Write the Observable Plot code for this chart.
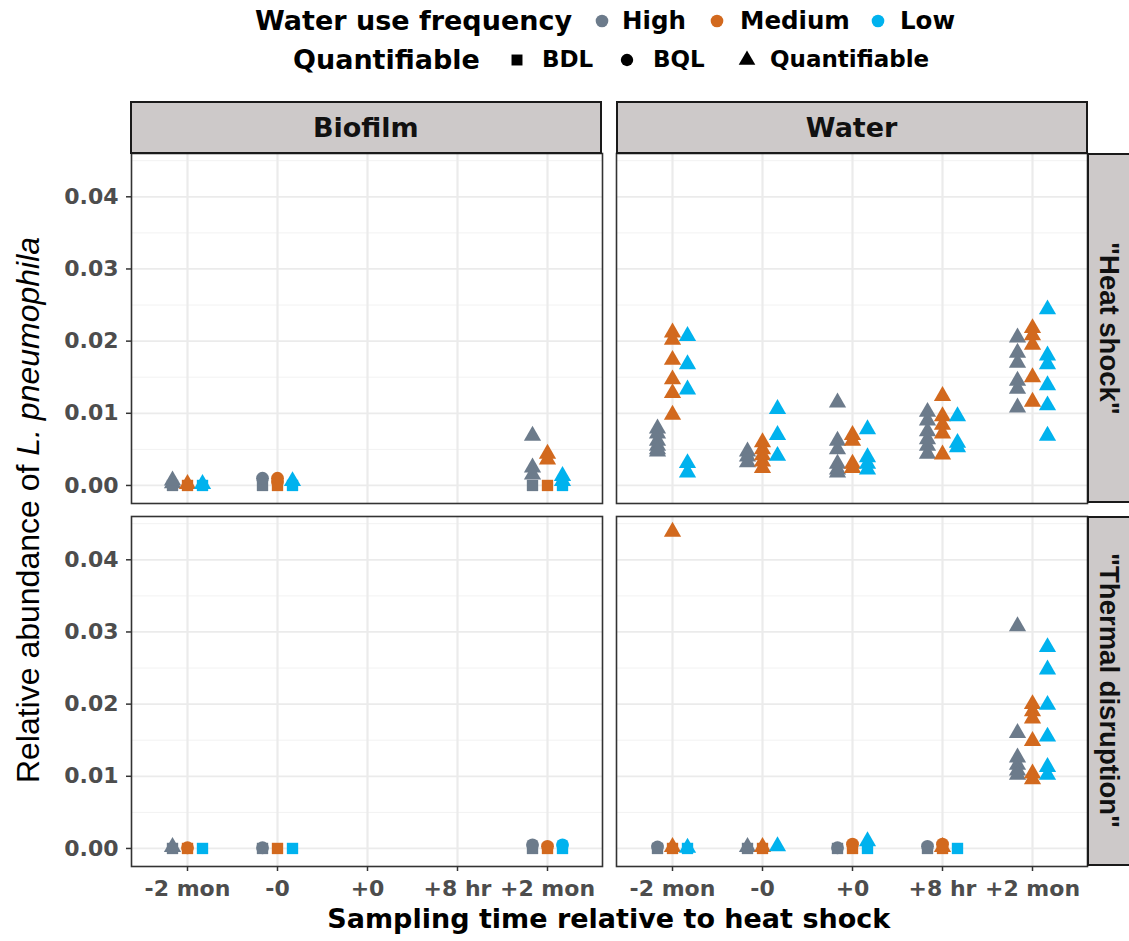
<!DOCTYPE html>
<html><head><meta charset="utf-8">
<script src="https://cdn.jsdelivr.net/npm/d3@7"></script>
<script src="https://cdn.jsdelivr.net/npm/@observablehq/plot@0.6"></script>
<style>
html,body{margin:0;padding:0;background:#fff;}
#root{position:relative;width:1129px;height:941px;overflow:hidden;font-family:"DejaVu Sans",sans-serif;color:#000;}
#root > svg{position:absolute;left:0;top:0;}
.abs{position:absolute;white-space:nowrap;}
.strip{position:absolute;background:#CDC9C9;border:2px solid #1A1A1A;box-sizing:border-box;display:flex;align-items:center;justify-content:center;font-weight:bold;color:#111;white-space:nowrap;}
</style></head>
<body><div id="root"></div>
<script>
// ---------- categories ----------
const times = ["-2 mon", "-0", "+0", "+8 hr", "+2 mon"];
const freqLevels = ["High", "Medium", "Low"];
const freqColors = ["#6C7B8B", "#D2691E", "#00B2EE"];
const quantLevels = ["BDL", "BQL", "Quantifiable"];
const quantSymbols = ["square", "circle", "triangle"];
const media = ["Biofilm", "Water"];
const treatments = ['"Heat shock"', '"Thermal disruption"'];
const yTicks = [0, 0.01, 0.02, 0.03, 0.04];
const yMinor = [0.005, 0.015, 0.025, 0.035, 0.045];

// ---------- values: [time, frequency, quantifiable, values] ----------
const biofilmHeat = [
  ["-2 mon", "High", "BDL", [0]],
  ["-2 mon", "High", "Quantifiable", [0.0003, 0.0007]],
  ["-2 mon", "Medium", "BDL", [0]],
  ["-2 mon", "Medium", "Quantifiable", [0.0002]],
  ["-2 mon", "Low", "BDL", [0]],
  ["-2 mon", "Low", "Quantifiable", [0.0002]],
  ["-0", "High", "BDL", [0]],
  ["-0", "High", "BQL", [0.0010]],
  ["-0", "Medium", "BDL", [0]],
  ["-0", "Medium", "BQL", [0.0005, 0.0010]],
  ["-0", "Low", "BDL", [0]],
  ["-0", "Low", "Quantifiable", [0.0006]],
  ["+2 mon", "High", "BDL", [0]],
  ["+2 mon", "High", "Quantifiable", [0.0069, 0.0025, 0.0015]],
  ["+2 mon", "Medium", "BDL", [0]],
  ["+2 mon", "Medium", "Quantifiable", [0.0044, 0.0036]],
  ["+2 mon", "Low", "BDL", [0]],
  ["+2 mon", "Low", "Quantifiable", [0.0013, 0.0006]]
];
const biofilmThermal = [
  ["-2 mon", "High", "BDL", [0]],
  ["-2 mon", "High", "Quantifiable", [0.0002]],
  ["-2 mon", "Medium", "BDL", [0]],
  ["-2 mon", "Medium", "BQL", [0.0001]],
  ["-2 mon", "Low", "BDL", [0]],
  ["-0", "High", "BDL", [0]],
  ["-0", "High", "BQL", [0.0001]],
  ["-0", "Medium", "BDL", [0]],
  ["-0", "Low", "BDL", [0]],
  ["+2 mon", "High", "BDL", [0]],
  ["+2 mon", "High", "BQL", [0.0005]],
  ["+2 mon", "Medium", "BDL", [0]],
  ["+2 mon", "Medium", "BQL", [0.0003]],
  ["+2 mon", "Low", "BDL", [0]],
  ["+2 mon", "Low", "BQL", [0.0005]]
];
const waterHeat = [
  ["-2 mon", "High", "Quantifiable", [0.0079, 0.0072, 0.0062, 0.0055, 0.0050, 0.0047]],
  ["-2 mon", "Medium", "Quantifiable", [0.0212, 0.0202, 0.0174, 0.0147, 0.0128, 0.0098]],
  ["-2 mon", "Low", "Quantifiable", [0.0207, 0.0168, 0.0133, 0.0031, 0.0018]],
  ["-0", "High", "Quantifiable", [0.0047, 0.0040, 0.0032]],
  ["-0", "Medium", "Quantifiable", [0.0060, 0.0050, 0.0042, 0.0033, 0.0024]],
  ["-0", "Low", "Quantifiable", [0.0106, 0.0070, 0.0041]],
  ["+0", "High", "Quantifiable", [0.0115, 0.0062, 0.0050, 0.0030, 0.0022, 0.0018]],
  ["+0", "Medium", "Quantifiable", [0.0070, 0.0062, 0.0030, 0.0024]],
  ["+0", "Low", "Quantifiable", [0.0078, 0.0039, 0.0030, 0.0022]],
  ["+8 hr", "High", "Quantifiable", [0.0102, 0.0090, 0.0075, 0.0064, 0.0055, 0.0044]],
  ["+8 hr", "Medium", "Quantifiable", [0.0124, 0.0096, 0.0084, 0.0072, 0.0043]],
  ["+8 hr", "Low", "Quantifiable", [0.0096, 0.0059, 0.0053]],
  ["+2 mon", "High", "Quantifiable", [0.0205, 0.0184, 0.0170, 0.0145, 0.0134, 0.0108]],
  ["+2 mon", "Medium", "Quantifiable", [0.0218, 0.0208, 0.0195, 0.0150, 0.0116]],
  ["+2 mon", "Low", "Quantifiable", [0.0244, 0.0180, 0.0168, 0.0139, 0.0111, 0.0069]]
];
const waterThermal = [
  ["-2 mon", "High", "BDL", [0]],
  ["-2 mon", "High", "BQL", [0.0002]],
  ["-2 mon", "Medium", "BDL", [0]],
  ["-2 mon", "Medium", "Quantifiable", [0.0439, 0.0002]],
  ["-2 mon", "Low", "BDL", [0]],
  ["-2 mon", "Low", "Quantifiable", [0.0001]],
  ["-0", "High", "BDL", [0]],
  ["-0", "High", "Quantifiable", [0.0002]],
  ["-0", "Medium", "BDL", [0]],
  ["-0", "Medium", "Quantifiable", [0.0002]],
  ["-0", "Low", "Quantifiable", [0.0003]],
  ["+0", "High", "BDL", [0]],
  ["+0", "High", "BQL", [0.0001]],
  ["+0", "Medium", "BDL", [0]],
  ["+0", "Medium", "BQL", [0.0006]],
  ["+0", "Low", "BDL", [0]],
  ["+0", "Low", "Quantifiable", [0.0010]],
  ["+8 hr", "High", "BDL", [0]],
  ["+8 hr", "High", "BQL", [0.0003]],
  ["+8 hr", "Medium", "BDL", [0]],
  ["+8 hr", "Medium", "Quantifiable", [0.0002]],
  ["+8 hr", "Medium", "BQL", [0.0006]],
  ["+8 hr", "Low", "BDL", [0]],
  ["+2 mon", "High", "Quantifiable", [0.0308, 0.0160, 0.0126, 0.0116, 0.0108, 0.0102]],
  ["+2 mon", "Medium", "Quantifiable", [0.0200, 0.0190, 0.0180, 0.0149, 0.0104, 0.0096]],
  ["+2 mon", "Low", "Quantifiable", [0.0279, 0.0248, 0.0199, 0.0155, 0.0113, 0.0102]]
];

// ---------- build the table ----------
const panels = [
  [media[0], treatments[0], biofilmHeat],
  [media[0], treatments[1], biofilmThermal],
  [media[1], treatments[0], waterHeat],
  [media[1], treatments[1], waterThermal]
];
const rows = [];
for (const [medium, treatment, list] of panels) {
  for (const [time, freq, quant, values] of list) {
    for (const value of values) rows.push({medium, treatment, time, freq, quant, value});
  }
}

// ---------- layout ----------
const W = 1129, H = 941;
const mLeft = 130, mRight = 41.5, mTop = 153, mBottom = 75;
const colGap = 14, rowGap = 13;
const panelW = (W - mLeft - mRight - colGap) / 2;
const panelH = (H - mTop - mBottom - rowGap) / 2;
const dodge = 15;

const chart = Plot.plot({
  width: W, height: H,
  marginTop: mTop, marginBottom: mBottom, marginLeft: mLeft, marginRight: mRight,
  style: {fontFamily: '"DejaVu Sans", sans-serif', background: "transparent", overflow: "visible"},
  facet: {data: rows, x: "medium", y: "treatment"},
  fx: {domain: media, paddingInner: colGap / (panelW + colGap), paddingOuter: 0, axis: null},
  fy: {domain: treatments, paddingInner: rowGap / (panelH + rowGap), paddingOuter: 0, axis: null},
  x: {type: "point", domain: times, padding: 0.6},
  y: {domain: [-0.0025, 0.046]},
  color: {domain: freqLevels, range: freqColors},
  symbol: {domain: quantLevels, range: quantSymbols},
  marks: [
    Plot.gridY(yMinor, {stroke: "#F2F2F2", strokeOpacity: 1, strokeWidth: 1}),
    Plot.gridY(yTicks, {stroke: "#EBEBEB", strokeOpacity: 1, strokeWidth: 1.8}),
    Plot.gridX(times, {stroke: "#EBEBEB", strokeOpacity: 1, strokeWidth: 2.2}),
    ...freqLevels.map((f, i) => Plot.dot(rows, {
      filter: d => d.freq === f,
      x: "time", y: "value", fill: "freq", symbol: "quant",
      r: 6.4, dx: (i - 1) * dodge
    })),
    Plot.frame({stroke: "#333333", strokeWidth: 1.6}),
    Plot.axisY({ticks: yTicks, tickFormat: d3.format(".2f"), tickSize: 5, tickPadding: 8,
      fontSize: 22, fontWeight: "bold", color: "#4D4D4D", stroke: "#333333", strokeWidth: 1.5, label: null}),
    Plot.axisX({tickSize: 5, tickPadding: 9, fontSize: 22, fontWeight: "bold",
      color: "#4D4D4D", stroke: "#333333", strokeWidth: 1.5, label: null})
  ]
});

const root = document.getElementById("root");
root.appendChild(chart);

// ---------- helpers for HTML text / decorations ----------
function addText(txt, x, cy, size, opts = {}) {
  const d = document.createElement("div");
  d.className = "abs";
  d.style.left = x + "px";
  d.style.top = (cy - size * 0.6) + "px";
  d.style.fontSize = size + "px";
  d.style.lineHeight = (size * 1.2) + "px";
  d.style.fontWeight = opts.weight || "bold";
  if (opts.family) d.style.fontFamily = opts.family;
  d.innerHTML = txt;
  root.appendChild(d);
  return d;
}
function addSymbol(type, cx, cy, color, size) {
  const s = 30;
  const svg = d3.create("svg").attr("width", s).attr("height", s)
    .style("position", "absolute").style("left", (cx - s / 2) + "px").style("top", (cy - s / 2) + "px");
  const sym = {square: d3.symbolSquare, circle: d3.symbolCircle, triangle: d3.symbolTriangle}[type];
  svg.append("path").attr("transform", `translate(${s / 2},${s / 2})`)
    .attr("d", d3.symbol(sym, size)()).attr("fill", color);
  root.appendChild(svg.node());
}

// ---------- legend ----------
const row1 = 21, row2 = 60;
addText("Water use frequency", 255, row1, 27);
const colorDotX = [602, 717, 878], colorLabelX = [622, 740, 900];
freqLevels.forEach((f, i) => {
  addSymbol("circle", colorDotX[i], row1, freqColors[i], 125);
  addText(f, colorLabelX[i], row1, 24.5);
});
addText("Quantifiable", 293, row2, 27);
const shapeX = [517, 627, 747], shapeLabelX = [542, 653, 770];
quantLevels.forEach((q, i) => {
  addSymbol(quantSymbols[i], shapeX[i], row2, "#000", 120);
  addText(q, shapeLabelX[i], row2, 23);
});

// ---------- axis titles ----------
const xt = addText("Sampling time relative to heat shock", 0, 919, 27);
xt.style.left = (mLeft + (W - mLeft - mRight) / 2) + "px";
xt.style.transform = "translateX(-50%)";

const yt = document.createElement("div");
yt.className = "abs";
yt.style.left = "28px";
yt.style.top = (mTop + (H - mTop - mBottom) / 2) + "px";
yt.style.fontFamily = '"Liberation Sans", Arial, sans-serif';
yt.style.fontSize = "32px";
yt.style.lineHeight = "36px";
yt.style.transform = "translate(-50%,-50%) rotate(-90deg)";
yt.innerHTML = "Relative abundance of <i>L. pneumophila</i>";
root.appendChild(yt);

// ---------- facet strips ----------
media.forEach((m, i) => {
  const d = document.createElement("div");
  d.className = "strip";
  d.style.left = (mLeft + i * (panelW + colGap)) + "px";
  d.style.top = "101px";
  d.style.width = panelW + "px";
  d.style.height = (mTop - 101 + 1) + "px";
  d.style.fontSize = "27px";
  d.textContent = m;
  root.appendChild(d);
});
treatments.forEach((t, i) => {
  const d = document.createElement("div");
  d.className = "strip";
  d.style.left = (W - mRight - 1) + "px";
  d.style.top = (mTop + i * (panelH + rowGap)) + "px";
  d.style.width = "45px";
  d.style.height = panelH + "px";
  d.style.fontSize = "27.5px";
  d.style.fontFamily = '"Liberation Sans", Arial, sans-serif';
  const span = document.createElement("span");
  span.style.writingMode = "vertical-rl";
  span.textContent = t;
  d.appendChild(span);
  root.appendChild(d);
});
</script></body></html>
